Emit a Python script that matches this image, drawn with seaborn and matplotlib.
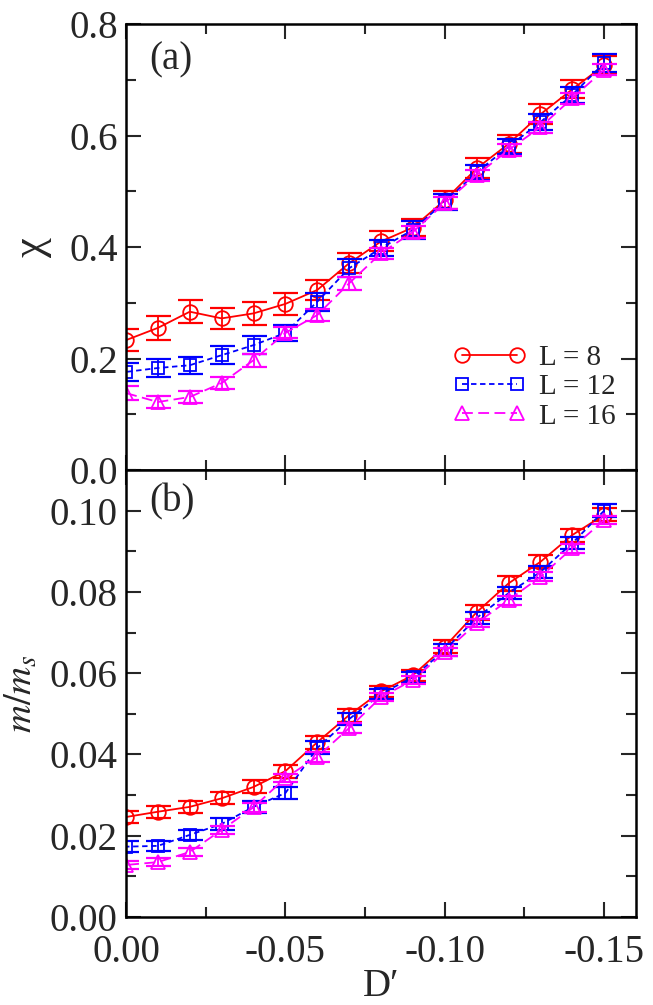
import numpy as np
import pandas as pd
import matplotlib
matplotlib.use("Agg")
import matplotlib.pyplot as plt
from matplotlib.ticker import MultipleLocator, FormatStrFormatter
import seaborn as sns

# ---- data ----
D = [0.00, -0.01, -0.02, -0.03, -0.04, -0.05, -0.06, -0.07,
     -0.08, -0.09, -0.10, -0.11, -0.12, -0.13, -0.14, -0.15]

chi_L8 = [0.233, 0.255, 0.284, 0.272, 0.281, 0.298, 0.323, 0.371,
          0.410, 0.435, 0.484, 0.541, 0.585, 0.638, 0.683, 0.726]
chi_L12 = [0.176, 0.183, 0.188, 0.206, 0.224, 0.246, 0.302, 0.362,
           0.398, 0.431, 0.481, 0.534, 0.580, 0.624, 0.673, 0.730]
chi_L16 = [0.138, 0.122, 0.131, 0.156, 0.197, 0.246, 0.278, 0.335,
           0.389, 0.427, 0.479, 0.529, 0.574, 0.615, 0.667, 0.718]
chi_err_L8 = [0.020, 0.022, 0.021, 0.019, 0.020, 0.020, 0.018, 0.018,
              0.018, 0.016, 0.016, 0.018, 0.016, 0.018, 0.016, 0.016]
chi_err_L12 = [0.016, 0.016, 0.015, 0.016, 0.016, 0.014, 0.016, 0.016,
               0.014, 0.016, 0.014, 0.014, 0.014, 0.014, 0.014, 0.016]
chi_err_L16 = [0.012, 0.010, 0.010, 0.010, 0.012, 0.010, 0.010, 0.012,
               0.010, 0.010, 0.010, 0.010, 0.010, 0.010, 0.010, 0.010]

m_L8 = [0.0246, 0.0259, 0.0271, 0.0292, 0.0320, 0.0359, 0.0430, 0.0497,
        0.0555, 0.0595, 0.0665, 0.0750, 0.0821, 0.0874, 0.0940, 0.0990]
m_L12 = [0.0173, 0.0175, 0.0202, 0.0229, 0.0271, 0.0305, 0.0416, 0.0487,
         0.0549, 0.0590, 0.0657, 0.0736, 0.0797, 0.0849, 0.0920, 0.1000]
m_L16 = [0.0128, 0.0135, 0.0160, 0.0214, 0.0270, 0.0342, 0.0394, 0.0465,
         0.0541, 0.0583, 0.0652, 0.0723, 0.0780, 0.0837, 0.0908, 0.0977]
m_err_L8 = [0.0015, 0.0015, 0.0015, 0.0015, 0.0016, 0.0016, 0.0016, 0.0016,
            0.0014, 0.0014, 0.0016, 0.0018, 0.0018, 0.0016, 0.0016, 0.0016]
m_err_L12 = [0.0014, 0.0013, 0.0013, 0.0014, 0.0014, 0.0015, 0.0016, 0.0015,
             0.0013, 0.0013, 0.0014, 0.0015, 0.0015, 0.0014, 0.0014, 0.0016]
m_err_L16 = [0.0010, 0.0010, 0.0010, 0.0011, 0.0011, 0.0011, 0.0012, 0.0012,
             0.0010, 0.0010, 0.0010, 0.0010, 0.0011, 0.0011, 0.0011, 0.0011]

labels = ["L = 8", "L = 12", "L = 16"]
colors = ["#ff0000", "#0000ff", "#ff00ff"]
markers = ["o", "s", "^"]
linestyles = ["-", (0, (3, 2)), (0, (6, 3))]
msizes = [10.5, 8.5, 9.5]

# ---- style ----
sns.set_style("ticks")
plt.rcParams["font.family"] = ["Liberation Serif", "DejaVu Serif"]
plt.rcParams["mathtext.fontset"] = "stix"
plt.rcParams["axes.unicode_minus"] = False

fig = plt.figure(figsize=(6.53, 10.05), dpi=100)
ax1 = fig.add_axes([0.193, 0.5323, 0.781, 0.4438])
ax2 = fig.add_axes([0.193, 0.0876, 0.781, 0.4447])

def draw(ax, series, errs):
    for i, (y, e) in enumerate(zip(series, errs)):
        df = pd.DataFrame({"D": D, "v": y})
        sns.lineplot(data=df, x="D", y="v", ax=ax, color=colors[i],
                     marker=markers[i], markersize=msizes[i],
                     markerfacecolor="none", markeredgecolor=colors[i],
                     markeredgewidth=1.3, linewidth=1.3,
                     linestyle=linestyles[i], label=labels[i],
                     legend=False, errorbar=None)
        ax.errorbar(D, y, yerr=e, fmt="none", ecolor=colors[i],
                    elinewidth=1.3, capsize=9, capthick=1.6)

draw(ax1, [chi_L8, chi_L12, chi_L16], [chi_err_L8, chi_err_L12, chi_err_L16])
draw(ax2, [m_L8, m_L12, m_L16], [m_err_L8, m_err_L12, m_err_L16])

for ax in (ax1, ax2):
    ax.set_xlim(0.0, -0.16)
    ax.xaxis.set_major_locator(MultipleLocator(0.05))
    ax.xaxis.set_minor_locator(MultipleLocator(0.025))
    ax.tick_params(which="both", direction="in", top=True, right=True,
                   width=1.5, labelsize=28, pad=6)
    ax.tick_params(which="major", length=11)
    ax.tick_params(which="minor", length=7)
    for s in ax.spines.values():
        s.set_linewidth(1.8)
        s.set_color("black")

ax1.set_ylim(0.0, 0.8)
ax1.yaxis.set_major_locator(MultipleLocator(0.2))
ax1.yaxis.set_minor_locator(MultipleLocator(0.1))
ax1.yaxis.set_major_formatter(FormatStrFormatter("%.1f"))
ax1.tick_params(axis="x", labelbottom=False)
ax1.set_xlabel("")
ax1.set_ylabel("χ", fontsize=32, labelpad=12)

ax2.set_ylim(0.0, 0.11)
ax2.yaxis.set_major_locator(MultipleLocator(0.02))
ax2.yaxis.set_minor_locator(MultipleLocator(0.01))
ax2.yaxis.set_major_formatter(FormatStrFormatter("%.2f"))
ax2.xaxis.set_major_formatter(FormatStrFormatter("%.2f"))
ax2.tick_params(axis="x", pad=12)
ax2.set_xlabel("D′", fontsize=28, labelpad=-2)
ax2.set_ylabel(r"$m/m_s$", fontsize=28, labelpad=6)

ax1.text(0.045, 0.96, "(a)", transform=ax1.transAxes, fontsize=28,
         va="top", ha="left")
ax2.text(0.045, 0.97, "(b)", transform=ax2.transAxes, fontsize=28,
         va="top", ha="left")

ax1.legend(loc="lower right", bbox_to_anchor=(1.0, 0.045), frameon=False,
           fontsize=21, numpoints=2, handlelength=2.5, handletextpad=0.45,
           labelspacing=0.1, borderaxespad=0.3)

fig.savefig("out.png", dpi=100)
